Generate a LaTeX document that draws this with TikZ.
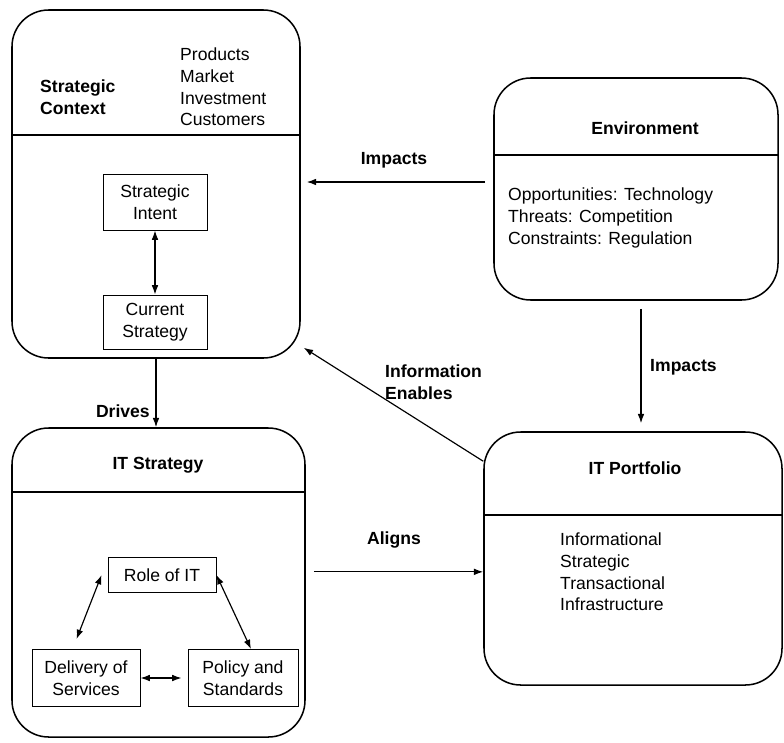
\documentclass[tikz,border=0pt]{standalone}
\usepackage{fontspec}
\setmainfont{Liberation Sans}
\usetikzlibrary{arrows.meta,positioning,calc}
\newcommand{\diagfont}{\fontsize{15}{18.5}\selectfont}
\tikzstyle{bigbox}   = [rectangle, rounded corners=11mm, draw=black, line width=1.3pt]
\tikzstyle{smallbox} = [rectangle, draw=black, line width=0.8pt, align=center, inner sep=0pt, font=\diagfont]
\tikzstyle{arrow}    = [line width=1pt, -{Latex[length=2.8mm,width=2mm]}]
\tikzstyle{twoway}   = [line width=1pt, {Latex[length=2.8mm,width=2mm]}-{Latex[length=2.8mm,width=2mm]}]
\tikzstyle{linktext} = [align=left, inner sep=0pt, font=\diagfont\bfseries]
\tikzstyle{bodytext} = [align=left, inner sep=0pt, font=\diagfont]
\tikzstyle{divider}  = [line width=1pt]

\begin{document}
\begin{tikzpicture}[x=0.3mm, y=-0.3mm]
        \useasboundingbox (0,0) rectangle (784,742);

        % main blocks
        \node (context) [bigbox, minimum width=86.4mm, minimum height=104.4mm] at (156,184) {};
        \node (env) [bigbox, minimum width=85.2mm, minimum height=66.6mm] at (636,189) {};
        \node (itstrat) [bigbox, minimum width=87.9mm, minimum height=92.7mm] at (158.5,582.5) {};
        \node (itport) [bigbox, minimum width=89.4mm, minimum height=75.9mm] at (633,558.5) {};

        \draw [divider] (context.west |- 0,135) -- (context.east |- 0,135);
        \draw [divider] (env.west |- 0,155) -- (env.east |- 0,155);
        \draw [divider] (itstrat.west |- 0,492) -- (itstrat.east |- 0,492);
        \draw [divider] (itport.west |- 0,515) -- (itport.east |- 0,515);

        % headings and lists
        \node (ctxtitle) [linktext, anchor=west] at (40,97) {Strategic\\Context};
        \node (ctxlist) [bodytext, anchor=west] at (180,87) {Products\\Market\\Investment\\Customers};
        \node (envtitle) [linktext] at (645,128) {Environment};
        \node (envlist) [bodytext, anchor=west] at (508,218) {Opportunities: Technology\\Threats: Competition\\Constraints: Regulation};
        \node (itstitle) [linktext] at (158,465) {IT Strategy};
        \node (itptitle) [linktext] at (635,468) {IT Portfolio};
        \node (itplist) [bodytext, anchor=west] at (560,572) {Informational\\Strategic\\Transactional\\Infrastructure};

        % inner boxes
        \node (intent) [smallbox, minimum width=31.2mm, minimum height=16.8mm] at (155,202) {Strategic\\Intent};
        \node (current) [smallbox, minimum width=31.2mm, minimum height=16.2mm] at (155,322) {Current\\Strategy};
        \node (role) [smallbox, minimum width=32.4mm, minimum height=10.5mm] at (162,575) {Role of IT};
        \node (delivery) [smallbox, minimum width=32.4mm, minimum height=17.1mm] at (86,678) {Delivery of\\Services};
        \node (policy) [smallbox, minimum width=33mm, minimum height=17.1mm] at (243,678) {Policy and\\Standards};

        \draw [twoway] (intent) -- (current);
        \draw [twoway] ([xshift=-1.8mm]role.west) -- ([xshift=-2.85mm,yshift=3mm]delivery.north);
        \draw [twoway] (role.east) -- ([xshift=2.4mm]policy.north);
        \draw [twoway] (delivery.east) -- ([xshift=-1.8mm]policy.west);

        % links between blocks
        \draw [arrow] ([xshift=-2.4mm,yshift=2.1mm]env.west) -- ([xshift=1.8mm,yshift=2.1mm]env.west -| context.east);
        \draw [arrow, shorten <=2.4mm, shorten >=2.4mm] ([xshift=1.5mm]env.south) -- ([xshift=1.5mm]env.south |- itport.north);
        \draw [arrow] ([shift={(0mm,-9mm)}]itport.north west) -- ([shift={(0.9mm,3.3mm)}]context.south east);
        \draw [arrow] (context.south) -- (context.south |- itstrat.north);
        \draw [arrow] ([xshift=2.4mm,yshift=3.2mm]itstrat.east) -- ([yshift=3.2mm]itstrat.east -| itport.west);

        \node (impacts1) [linktext] at (394,160) {Impacts};
        \node (impacts2) [linktext, anchor=west] at (650,367) {Impacts};
        \node (enables) [linktext, anchor=west] at (385,382) {Information\\Enables};
        \node (drives) [linktext, anchor=east] at (150,411) {Drives};
        \node (aligns) [linktext] at (394,540) {Aligns};
\end{tikzpicture}
\end{document}
